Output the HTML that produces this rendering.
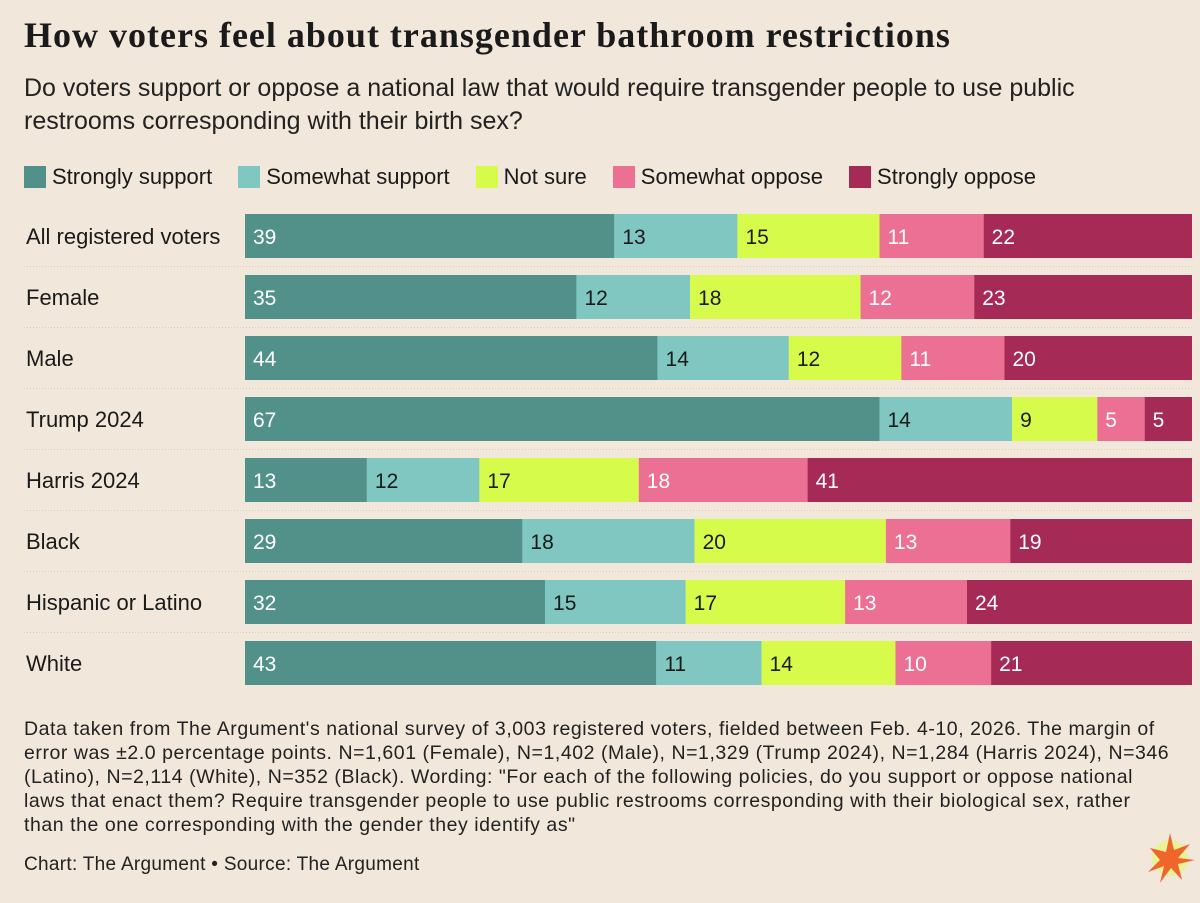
<!DOCTYPE html>
<html><head><meta charset="utf-8">
<style>
body{margin:0;background:#f1e7da;width:1200px;height:903px;overflow:hidden;font-family:"Liberation Sans",sans-serif;color:#1a1a1a;}
#title{position:absolute;left:24px;top:14px;font-family:"Liberation Serif",serif;font-weight:bold;font-size:36px;letter-spacing:1px;white-space:nowrap;}
#sub{position:absolute;left:24px;top:72px;font-size:25px;line-height:33px;width:1165px;color:#222;}
#legend{position:absolute;left:24px;top:164px;font-size:22px;display:flex;white-space:nowrap;}
.li{display:flex;align-items:center;margin-right:26px;}
.sw{width:22px;height:22px;margin-right:6px;}
#note{position:absolute;left:24px;top:717px;font-size:19.5px;letter-spacing:0.55px;line-height:24px;color:#222;white-space:nowrap;}
#credit{position:absolute;left:24px;top:854px;font-size:19px;letter-spacing:0.3px;color:#222;}
</style></head><body>
<div id="title">How voters feel about transgender bathroom restrictions</div>
<div id="sub">Do voters support or oppose a national law that would require transgender people to use public restrooms corresponding with their birth sex?</div>
<div id="legend">
<div class="li"><div class="sw" style="background:#52918a"></div>Strongly support</div>
<div class="li"><div class="sw" style="background:#7fc7c0"></div>Somewhat support</div>
<div class="li"><div class="sw" style="background:#d7fb4b"></div>Not sure</div>
<div class="li"><div class="sw" style="background:#ec7093"></div>Somewhat oppose</div>
<div class="li"><div class="sw" style="background:#a52a55"></div>Strongly oppose</div>
</div>
<svg id="chart" width="1200" height="903" style="position:absolute;left:0;top:0"></svg>
<div id="note">Data taken from The Argument's national survey of 3,003 registered voters, fielded between Feb. 4-10, 2026. The margin of<br>error was ±2.0 percentage points. N=1,601 (Female), N=1,402 (Male), N=1,329 (Trump 2024), N=1,284 (Harris 2024), N=346<br>(Latino), N=2,114 (White), N=352 (Black). Wording: "For each of the following policies, do you support or oppose national<br>laws that enact them? Require transgender people to use public restrooms corresponding with their biological sex, rather<br>than the one corresponding with the gender they identify as"</div>
<div id="credit">Chart: The Argument • Source: The Argument</div>
<svg width="60" height="60" style="position:absolute;left:1140px;top:828px">
<circle cx="30" cy="30" r="18" fill="#e4f77a" opacity="0.7"/>
<polygon points="30,5 34,22 50,16 38,30 55,32 38,36 42,52 31,40 20,55 24,38 8,44 20,32 10,20 26,24" fill="#f0662a"/>
</svg>
<script>
const categories=["All registered voters","Female","Male","Trump 2024","Harris 2024","Black","Hispanic or Latino","White"];
const stronglySupport=[39,35,44,67,13,29,32,43];
const somewhatSupport=[13,12,14,14,12,18,15,11];
const notSure=[15,18,12,9,17,20,17,14];
const somewhatOppose=[11,12,11,5,18,13,13,10];
const stronglyOppose=[22,23,20,5,41,19,24,21];
const series=[stronglySupport,somewhatSupport,notSure,somewhatOppose,stronglyOppose];
const seriesNames=["strongly-support","somewhat-support","not-sure","somewhat-oppose","strongly-oppose"];
const colors=["#52918a","#7fc7c0","#d7fb4b","#ec7093","#a52a55"];
const textColors=["#fff","#1a1a1a","#1a1a1a","#fff","#fff"];
const svg=document.getElementById('chart');
const NS="http://www.w3.org/2000/svg";
const x0=245,x1=1192,yTop=214,step=61,bh=44;
const yPos=i=>yTop+i*step;
categories.forEach((c,i)=>{
  const y=yPos(i);
  const t=document.createElementNS(NS,'text');
  
  
  t.setAttribute('x',26);t.setAttribute('y',y+bh/2+8);
  t.setAttribute('font-size','22');t.setAttribute('fill','#1a1a1a');
  t.textContent=c;svg.appendChild(t);
  if(i<categories.length-1){
    const l=document.createElementNS(NS,'line');
    
    
    l.setAttribute('x1',24);l.setAttribute('x2',1192);
    l.setAttribute('y1',y+bh+8.5);l.setAttribute('y2',y+bh+8.5);
    l.setAttribute('stroke','#d9cdbf');l.setAttribute('stroke-dasharray','1,2');
    svg.appendChild(l);
  }
  const total=series.reduce((a,s)=>a+s[i],0);
  const sc=v=>v/total*(x1-x0);
  let x=x0;
  series.forEach((s,k)=>{
    const w=sc(s[i]);
    const r=document.createElementNS(NS,'rect');
    
    
    r.setAttribute('x',x);r.setAttribute('y',y);
    r.setAttribute('width',w);r.setAttribute('height',bh);
    r.setAttribute('fill',colors[k]);svg.appendChild(r);
    const v=document.createElementNS(NS,'text');
    
    
    v.setAttribute('x',x+8);v.setAttribute('y',y+bh/2+8);
    v.setAttribute('font-size','21');v.setAttribute('fill',textColors[k]);
    v.textContent=s[i];svg.appendChild(v);
    x+=w;
  });
});
</script>
</body></html>
